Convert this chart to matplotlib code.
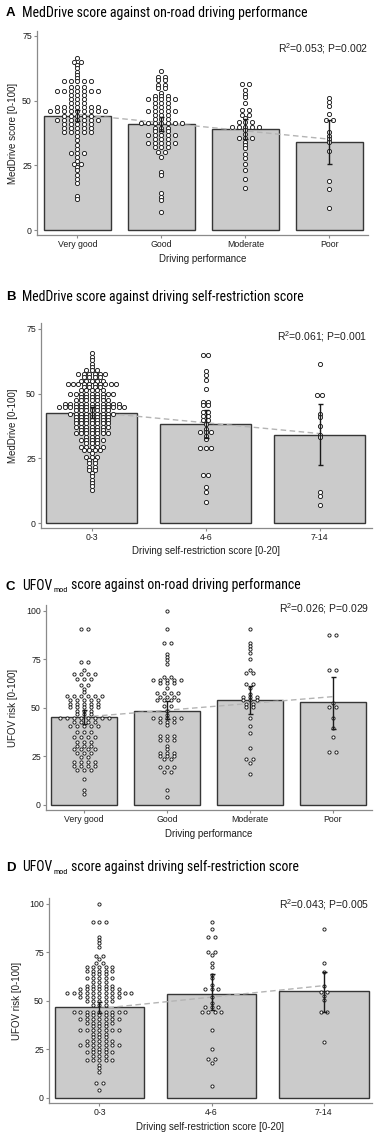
import os
import numpy as np
import matplotlib
matplotlib.use("Agg")
import matplotlib.pyplot as plt
from matplotlib import font_manager
from matplotlib.font_manager import FontProperties

W, H, DPI = 376, 1134, 100

plt.rcParams['font.family'] = ['Liberation Sans', 'DejaVu Sans']
plt.rcParams['mathtext.fontset'] = 'custom'
plt.rcParams['mathtext.rm'] = 'Liberation Sans'
plt.rcParams['mathtext.default'] = 'regular'

# ---------------- data ----------------
perf_cats = ["Very good", "Good", "Moderate", "Poor"]
restr_cats = ["0-3", "4-6", "7-14"]

# Panel A: MedDrive by driving performance (value rows and number of points in each row)
A_vg_vals = [66.4, 65.1, 63.8, 62.5, 61.2, 59.9, 58.6, 57.6, 55.4, 53.8, 52.2, 50.6, 49.0, 47.4, 45.8, 44.2, 42.6,
             41.0, 39.4, 37.8, 36.2, 34.6, 33.0, 31.4, 29.8, 28.2, 26.6, 25.6, 24.4, 23.0, 21.4, 19.8, 18.2, 13.0, 12.0]
A_vg_cnts = [1, 2, 1, 1, 1, 1, 1, 5, 3, 7, 3, 3, 3, 7, 9, 5, 7, 5, 5, 5, 1, 1, 1, 1, 3, 1, 1, 2, 1, 1, 1, 1, 1, 1, 1]
A_g_vals = [61.5, 59.3, 57.8, 56.2, 54.7, 53.1, 51.6, 50.5, 48.9, 47.4, 46.0, 44.5, 43.0, 41.2, 39.6, 38.2, 36.7,
            35.2, 33.7, 32.1, 30.3, 28.3, 22.5, 21.3, 14.3, 12.9, 11.6, 7.1]
A_g_cnts = [1, 2, 2, 2, 2, 1, 3, 5, 3, 3, 5, 3, 3, 7, 3, 3, 5, 3, 5, 3, 2, 1, 1, 1, 1, 1, 1, 1]
A_m_vals = [56.4, 54.1, 52.6, 51.3, 49.0, 46.2, 44.6, 43.3, 41.7, 39.7, 38.5, 37.2, 35.5, 34.2, 32.9, 31.6, 29.5,
            27.9, 25.6, 23.1, 19.9, 16.4]
A_m_cnts = [2, 1, 1, 1, 1, 2, 2, 1, 3, 5, 1, 1, 3, 1, 1, 1, 1, 1, 1, 1, 1, 1]
A_p_vals = [51.0, 49.4, 47.8, 44.8, 42.7, 37.8, 36.5, 35.2, 34.1, 30.7, 19.1, 15.8, 8.4]
A_p_cnts = [1, 1, 1, 1, 2, 1, 1, 1, 1, 1, 1, 1, 1]
A_means = [44.2, 41.0, 39.0, 34.0]
A_ci_lo = [42.0, 38.4, 35.3, 25.5]
A_ci_hi = [46.4, 43.7, 42.8, 42.4]
A_fit = [44.7, -3.2]          # intercept, slope (per category step)
A_stats = "R$^{2}$=0.053; P=0.002"

# Panel B: MedDrive by self-restriction score
B_03_vals = [65.8, 64.1, 62.8, 61.5, 60.2, 58.9, 57.6, 56.3, 55.0, 53.8, 52.5, 51.2, 50.0, 48.7, 47.4, 46.1, 44.9,
             43.6, 42.3, 41.0, 39.8, 38.5, 37.2, 35.9, 34.7, 33.4, 32.1, 30.8, 29.6, 28.3, 27.0, 25.7, 24.5, 23.2,
             21.9, 20.6, 19.4, 18.1, 16.8, 15.5, 14.3, 13.0]
B_03_cnts = [1, 1, 1, 1, 1, 3, 6, 4, 5, 10, 4, 5, 9, 5, 7, 11, 13, 7, 9, 7, 7, 7, 7, 5, 7, 3, 5, 3, 5, 4, 1, 3,
             2, 2, 2, 2, 1, 1, 1, 1, 1, 1]
B_46_vals = [64.7, 58.7, 57.0, 55.4, 51.7, 46.8, 45.5, 42.9, 41.3, 39.7, 38.2, 36.5, 35.2, 33.8, 32.6, 29.0, 18.8,
             14.1, 12.2, 8.3]
B_46_cnts = [2, 1, 1, 1, 1, 2, 2, 2, 2, 2, 1, 1, 3, 1, 1, 3, 2, 1, 1, 1]
B_714_vals = [61.3, 49.3, 42.3, 40.8, 37.4, 34.0, 33.1, 12.2, 10.6, 7.0]
B_714_cnts = [1, 2, 1, 1, 1, 1, 1, 1, 1, 1]
B_means = [42.7, 38.1, 34.2]
B_ci_lo = [40.7, 32.7, 22.4]
B_ci_hi = [44.7, 43.6, 45.9]
B_fit = [42.9, -4.15]
B_stats = "R$^{2}$=0.061; P=0.001"

# Panel C: UFOV risk by driving performance
C_vg_vals = [90.6, 73.4, 69.5, 67.4, 64.7, 61.8, 59.6, 58.0, 56.1, 54.2, 52.2, 50.5, 48.3, 46.6, 44.9, 42.9, 40.7,
             37.8, 35.2, 32.6, 30.5, 28.8, 26.6, 24.9, 22.3, 20.1, 18.0, 13.5, 7.7, 5.7]
C_vg_cnts = [2, 2, 1, 4, 3, 2, 1, 1, 6, 5, 5, 5, 3, 3, 8, 4, 5, 3, 4, 3, 3, 4, 3, 2, 4, 4, 3, 1, 1, 1]
C_g_vals = [100.0, 90.6, 83.2, 78.0, 76.2, 74.5, 72.8, 66.0, 64.3, 62.6, 60.5, 57.8, 55.8, 54.0, 51.0, 48.5, 46.5,
            44.9, 42.9, 41.0, 35.5, 33.5, 30.5, 28.6, 27.0, 25.3, 23.5, 19.7, 17.2, 7.7, 4.0]
C_g_cnts = [1, 1, 2, 1, 1, 1, 1, 2, 5, 3, 1, 4, 3, 4, 2, 1, 1, 5, 3, 1, 3, 3, 1, 1, 3, 3, 2, 3, 2, 1, 1]
C_m_vals = [90.6, 83.5, 81.8, 80.1, 78.4, 75.1, 69.5, 68.0, 62.1, 60.4, 57.3, 55.4, 54.0, 52.2, 50.6, 44.6, 40.7,
            36.9, 29.2, 23.5, 21.4, 15.8]
C_m_cnts = [1, 1, 1, 1, 1, 1, 1, 2, 2, 1, 1, 3, 3, 2, 2, 1, 1, 1, 1, 2, 1, 1]
C_p_vals = [87.5, 69.5, 52.3, 50.6, 44.6, 39.5, 35.2, 27.1]
C_p_cnts = [2, 2, 1, 2, 1, 1, 1, 2]
C_means = [45.1, 48.5, 54.0, 53.2]
C_ci_lo = [41.7, 44.1, 46.7, 39.0]
C_ci_hi = [48.9, 53.5, 61.2, 66.0]
C_fit = [45.3, 3.5]
C_stats = "R$^{2}$=0.026; P=0.029"

# Panel D: UFOV risk by self-restriction score
D_03_vals = [100.0, 90.6, 83.0, 81.3, 79.6, 77.9, 73.1, 71.4, 69.5, 67.5, 65.3, 63.6, 61.9, 59.5, 57.7, 56.0, 54.2,
             52.1, 49.9, 47.8, 44.4, 42.7, 40.6, 38.7, 36.8, 35.0, 33.1, 31.2, 29.3, 27.3, 25.3, 23.6, 21.6, 19.6,
             17.1, 15.3, 13.5, 7.7, 4.3]
D_03_cnts = [1, 3, 1, 1, 1, 1, 2, 1, 2, 5, 5, 3, 5, 3, 5, 7, 11, 7, 5, 3, 9, 5, 7, 5, 3, 7, 3, 3, 5, 7, 3, 5, 3,
             5, 1, 1, 1, 2, 1]
D_46_vals = [90.6, 86.7, 82.9, 75.2, 73.5, 69.2, 67.5, 63.2, 61.5, 58.1, 55.9, 52.0, 48.7, 47.0, 44.4, 35.0, 25.3,
             20.0, 17.9, 6.0]
D_46_cnts = [1, 1, 2, 2, 1, 1, 1, 1, 1, 1, 3, 1, 1, 3, 4, 1, 1, 2, 1, 1]
D_714_vals = [86.8, 69.2, 64.6, 57.7, 54.4, 52.7, 50.4, 44.4, 29.0]
D_714_cnts = [1, 1, 1, 1, 2, 1, 1, 2, 1]
D_means = [46.7, 53.3, 55.0]
D_ci_lo = [43.9, 45.3, 44.4]
D_ci_hi = [49.2, 63.7, 64.6]
D_fit = [46.0, 5.9]
D_stats = "R$^{2}$=0.043; P=0.005"

# ---------------- fonts ----------------
def condensed_font():
    prefs = ['liberationsansnarrow-regular', 'robotocondensed-regular', 'opensans-condensed', 'opensanscondensed',
             'notosans-condensed.', 'notosans-condensedregular', 'dejavusanscondensed.']
    files = [f.fname for f in font_manager.fontManager.ttflist]
    low = {os.path.basename(p).lower(): p for p in files}
    for pref in prefs:
        for name, p in low.items():
            if name.startswith(pref) and not any(k in name for k in ('bold', 'italic', 'oblique', 'light')):
                return FontProperties(fname=p)
    return FontProperties(family='DejaVu Sans', stretch='condensed')


COND = condensed_font()

# ---------------- drawing ----------------
fig = plt.figure(figsize=(W / DPI, H / DPI), dpi=DPI)
renderer = fig.canvas.get_renderer()

BAR_FILL = '#cbcbcb'
BAR_EDGE = '#363636'
SPINE = '#8a8a8a'
TXT = '#1e1e1e'


def px_axes(left, top, right, bottom):
    return fig.add_axes([left / W, 1 - bottom / H, (right - left) / W, (bottom - top) / H])


def row_layout(ax, center, vals, cnts, spacing_px):
    xunit = ax.transData.transform((1, 0))[0] - ax.transData.transform((0, 0))[0]
    xs, ys = [], []
    for v, n in zip(vals, cnts):
        offs = (np.arange(n) - (n - 1) / 2.0) * spacing_px / xunit
        xs.extend(center + offs)
        ys.extend([v] * n)
    return np.array(xs), np.array(ys)


def panel(box, xlim, ylim, yticks, cats, groups, means, lo, hi, fit, stats, ylabel, xlabel,
          dot_ms, spacing, ylabel_x, xlabel_y, stats_xy, bar_w=0.8):
    left, top, right, bottom = box
    ax = px_axes(*box)
    ax.set_xlim(*xlim)
    ax.set_ylim(*ylim)
    x = np.arange(len(cats))
    ax.bar(x, means, width=bar_w, color=BAR_FILL, edgecolor=BAR_EDGE, linewidth=1.0, zorder=1)
    xf = np.array([0, len(cats) - 1])
    ax.plot(xf, fit[0] + fit[1] * xf, color='#b4b4b4', lw=1.0, dashes=(4, 2.5), zorder=2)
    for i, (vals, cnts) in enumerate(groups):
        xs, ys = row_layout(ax, i, vals, cnts, spacing)
        ax.plot(xs, ys, 'o', ms=dot_ms, mfc='white', mec='#1a1a1a', mew=0.65, ls='none', zorder=3)
    m = np.array(means)
    ax.errorbar(x, m, yerr=[m - np.array(lo), np.array(hi) - m], fmt='none', ecolor='#1a1a1a',
                elinewidth=1.0, capsize=1.8, capthick=1.0, zorder=4)
    for s in ['top', 'right']:
        ax.spines[s].set_visible(False)
    for s in ['left', 'bottom']:
        ax.spines[s].set_color(SPINE)
        ax.spines[s].set_linewidth(0.9)
    ax.set_yticks(yticks)
    ax.set_xticks(x)
    ax.set_xticklabels(cats)
    ax.tick_params(axis='both', length=2.2, width=0.8, color=SPINE, labelsize=6.3, labelcolor=TXT, pad=1.5)
    ax.set_ylabel(ylabel, fontsize=7, color=TXT)
    ax.set_xlabel(xlabel, fontsize=7, color=TXT)
    ax.yaxis.set_label_coords((ylabel_x - left) / (right - left), 0.5)
    ax.xaxis.set_label_coords(0.5, (bottom - xlabel_y) / (bottom - top))
    ax.xaxis.label.set_va('center')
    ax.yaxis.label.set_va('center')
    fig.text(stats_xy[0] / W, 1 - stats_xy[1] / H, stats, ha='right', va='center', fontsize=7.5, color=TXT)
    return ax


def title(letter, parts, baseline, right_px, size=10.5):
    fig.text(6 / W, 1 - baseline / H, letter, fontsize=9.5, fontweight='bold', va='baseline', ha='left',
             family=['Liberation Sans', 'DejaVu Sans'], color='black')
    # measure at nominal size, then fit into the reference width
    total = 0
    for text, rel, dy in parts:
        fp = COND.copy()
        fp.set_size(size * rel)
        t = fig.text(0, 0, text, fontproperties=fp)
        total += t.get_window_extent(renderer).width + 0.8
        t.remove()
    scale = min(1.0, (right_px - 22) / total)
    xp = 22
    for text, rel, dy in parts:
        fp = COND.copy()
        fp.set_size(size * rel * scale)
        t = fig.text(xp / W, 1 - (baseline + dy) / H, text, fontproperties=fp, va='baseline', ha='left',
                     color='black')
        xp += t.get_window_extent(renderer).width + 0.8


title('A', [("MedDrive score against on-road driving performance", 1.0, 0)], 16.5, 313)
panel((37, 31, 368, 235), (-0.48, 3.46), (-1.93, 76.9), [0, 25, 50, 75], perf_cats,
      [(A_vg_vals, A_vg_cnts), (A_g_vals, A_g_cnts), (A_m_vals, A_m_cnts), (A_p_vals, A_p_cnts)],
      A_means, A_ci_lo, A_ci_hi, A_fit, A_stats, "MedDrive score [0-100]", "Driving performance",
      3.0, 6.8, 13, 259, (368, 49))

title('B', [("MedDrive score against driving self-restriction score", 1.0, 0)], 300.5, 307)
panel((41, 323, 372, 528), (-0.447, 2.46), (-1.8, 77.2), [0, 25, 50, 75], restr_cats,
      [(B_03_vals, B_03_cnts), (B_46_vals, B_46_cnts), (B_714_vals, B_714_cnts)],
      B_means, B_ci_lo, B_ci_hi, B_fit, B_stats, "MedDrive [0-100]", "Driving self-restriction score [0-20]",
      3.0, 5.4, 13, 551, (367, 337))

title('C', [("UFOV", 1.0, 0), ("mod", 0.6, 2.5), (" score against on-road driving performance", 1.0, 0)],
      589.5, 305)
panel((46, 605, 372, 810), (-0.458, 3.47), (-2.6, 103), [0, 25, 50, 75, 100], perf_cats,
      [(C_vg_vals, C_vg_cnts), (C_g_vals, C_g_cnts), (C_m_vals, C_m_cnts), (C_p_vals, C_p_cnts)],
      C_means, C_ci_lo, C_ci_hi, C_fit, C_stats, "UFOV risk [0-100]", "Driving performance",
      2.3, 7.0, 13, 834, (369, 609))

title('D', [("UFOV", 1.0, 0), ("mod", 0.6, 2.5), (" score against driving self-restriction score", 1.0, 0)],
      871, 302)
panel((49, 898, 372, 1103), (-0.45, 2.43), (-2.6, 102.9), [0, 25, 50, 75, 100], restr_cats,
      [(D_03_vals, D_03_cnts), (D_46_vals, D_46_cnts), (D_714_vals, D_714_cnts)],
      D_means, D_ci_lo, D_ci_hi, D_fit, D_stats, "UFOV risk [0-100]", "Driving self-restriction score [0-20]",
      2.3, 6.4, 17, 1127, (369, 905))

fig.savefig("out.png", dpi=DPI)
